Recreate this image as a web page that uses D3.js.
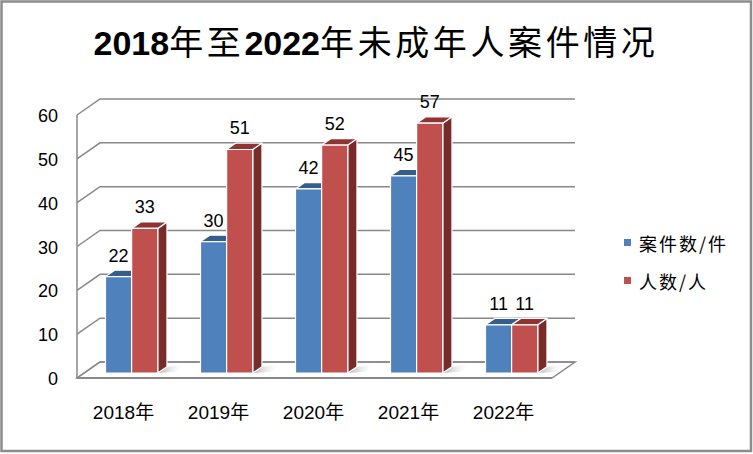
<!DOCTYPE html>
<html>
<head>
<meta charset="utf-8">
<script src="https://cdn.jsdelivr.net/npm/d3@7"></script>
<style>
	body { margin: 0; background: #ffffff; }
	svg { display: block; }
</style>
</head>
<body>
<svg width="753" height="454"></svg>
<script>
	// Data
	const title = "2018年至2022年未成年人案件情况";
	const categories = ["2018年", "2019年", "2020年", "2021年", "2022年"];
	const series_names = ["案件数/件", "人数/人"];
	const cases = [22, 30, 42, 45, 11];
	const people = [33, 51, 52, 57, 11];
	const y_ticks = [0, 10, 20, 30, 40, 50, 60];

	// Variable Declarations
	const svg = d3.select("svg");
	const front_left = 77, front_right = 552;
	const depth_x = 23, depth_y = 16;
	const bar_z0 = 0.31, bar_z1 = 0.71;

	const colors = [
		{front: "#4f81bd", top: "#385d8a", side: "#2f4f78"},
		{front: "#c0504d", top: "#8f3432", side: "#772c2a"}
	];
	const grid_color = "#888888";

	const x = d3.scaleBand()
		.domain(categories)
		.range([front_left, front_right])
		.paddingInner(0.45)
		.paddingOuter(0.225);

	const y = d3.scaleLinear()
		.domain([0, 60])
		.range([378, 115]);

	const series = [cases, people];

	// Function Definitions

	/**
	 * Project a point of the front plane back to depth z (0 front, 1 back wall)
	 * @param {number} px - x on the front plane
	 * @param {number} v - data value
	 * @param {number} z - depth fraction
	 */
	function proj(px, v, z){
		return [px + z * depth_x, y(v) - z * depth_y];
	}

	function poly(points){
		return points.map(p => p.join(",")).join(" ");
	}

	// outer border
	svg.append("rect")
	   .attr("x", 1.5).attr("y", 1.5)
	   .attr("width", 749.5).attr("height", 449.5)
	   .attr("fill", "#ffffff")
	   .attr("stroke", "#8c8c8c")
	   .attr("stroke-width", 2.5);

	// title: bold latin digits, regular CJK glyphs
	const title_text = svg.append("text")
	   .attr("x", 376)
	   .attr("y", 55)
	   .attr("text-anchor", "middle")
	   .attr("font-size", 34)
	   .attr("fill", "#000000");

	title.split(/(\d+)/).filter(s => s.length).forEach(function(run){
		let is_digit = /^\d+$/.test(run);
		title_text.append("tspan")
		   .text(run)
		   .attr("font-family", is_digit ? "'Liberation Sans', Arial, sans-serif" : "'Noto Sans CJK SC', sans-serif")
		   .attr("font-weight", is_digit ? "bold" : "normal")
		   .attr("letter-spacing", is_digit ? 0 : 3.6);
	});

	// floor
	const defs = svg.append("defs");
	const shadow = defs.append("linearGradient")
	   .attr("id", "shadow")
	   .attr("x1", 0).attr("x2", 1).attr("y1", 0).attr("y2", 0);
	shadow.append("stop").attr("offset", "0%").attr("stop-color", "#9a9a9a").attr("stop-opacity", 0.8);
	shadow.append("stop").attr("offset", "100%").attr("stop-color", "#ffffff").attr("stop-opacity", 0);

	svg.append("polygon")
	   .attr("points", poly([proj(front_left, 0, 0), proj(front_right, 0, 0), proj(front_right, 0, 1), proj(front_left, 0, 1)]))
	   .attr("fill", "#ffffff")
	   .attr("stroke", grid_color)
	   .attr("stroke-width", 1.5);

	// back wall grid lines and left wall lines
	const grid = svg.append("g")
	   .attr("stroke", grid_color)
	   .attr("stroke-width", 1.5)
	   .attr("fill", "none");

	grid.selectAll("polyline")
	   .data(y_ticks)
	   .enter()
	   .append("polyline")
	   .attr("points", function(d){
		   return poly([proj(front_left, d, 0), proj(front_left, d, 1), proj(front_right, d, 1)]);
	   });

	grid.append("line")
	   .attr("x1", front_left).attr("y1", y(0))
	   .attr("x2", front_left).attr("y2", y(60));

	// front floor edge drawn a bit heavier
	grid.append("line")
	   .attr("x1", front_left).attr("y1", y(0))
	   .attr("x2", front_right).attr("y2", y(0))
	   .attr("stroke-width", 2);

	// y tick labels
	svg.append("g")
	   .selectAll("text")
	   .data(y_ticks)
	   .enter()
	   .append("text")
	   .attr("x", 58)
	   .attr("y", d => y(d) + 7)
	   .attr("text-anchor", "end")
	   .attr("font-family", "'Liberation Sans', Arial, sans-serif")
	   .attr("font-size", 18)
	   .attr("fill", "#000000")
	   .text(d => d);

	// x labels
	svg.append("g")
	   .selectAll("text")
	   .data(categories)
	   .enter()
	   .append("text")
	   .attr("x", d => x(d) + x.bandwidth() / 2 - 1)
	   .attr("y", 419)
	   .attr("text-anchor", "middle")
	   .attr("font-family", "'Liberation Sans', 'Noto Sans CJK SC', sans-serif")
	   .attr("font-size", 19)
	   .attr("fill", "#000000")
	   .text(d => d);

	// bars
	const bar_width = x.bandwidth() / 2;
	const bars = svg.append("g");
	const labels = svg.append("g");

	categories.forEach(function(cat, i){
		let left = x(cat);
		let right = left + x.bandwidth();

		// floor shadow to the right of the group
		bars.append("polygon")
		   .attr("points", poly([proj(right, 0, bar_z0), proj(right + 16, 0, bar_z0 + 0.08), proj(right + 16, 0, bar_z1 + 0.1), proj(right, 0, bar_z1)]))
		   .attr("fill", "url(#shadow)");

		series.forEach(function(values, s){
			let v = values[i];
			let xl = left + s * bar_width;
			let xr = xl + bar_width;
			let c = colors[s];
			let g = bars.append("g")
			   .attr("stroke", "#ffffff")
			   .attr("stroke-width", 1.2)
			   .attr("stroke-linejoin", "round");

			g.append("polygon")
			   .attr("points", poly([proj(xr, 0, bar_z0), proj(xr, v, bar_z0), proj(xr, v, bar_z1), proj(xr, 0, bar_z1)]))
			   .attr("fill", c.side);

			g.append("polygon")
			   .attr("points", poly([proj(xl, v, bar_z0), proj(xr, v, bar_z0), proj(xr, v, bar_z1), proj(xl, v, bar_z1)]))
			   .attr("fill", c.top);

			g.append("polygon")
			   .attr("points", poly([proj(xl, 0, bar_z0), proj(xr, 0, bar_z0), proj(xr, v, bar_z0), proj(xl, v, bar_z0)]))
			   .attr("fill", c.front);

			let top = proj(xl + bar_width / 2, v, bar_z0);
			labels.append("text")
			   .attr("x", top[0])
			   .attr("y", top[1] - 15)
			   .attr("text-anchor", "middle")
			   .attr("font-family", "'Liberation Sans', Arial, sans-serif")
			   .attr("font-size", 18)
			   .attr("fill", "#000000")
			   .text(v);
		});
	});

	// legend
	const legend = svg.append("g")
	   .selectAll("g")
	   .data(series_names)
	   .enter()
	   .append("g")
	   .attr("transform", (d, i) => `translate(624, ${242.5 + i * 38})`);

	legend.append("rect")
	   .attr("x", 0).attr("y", -3.5)
	   .attr("width", 7).attr("height", 7)
	   .attr("fill", (d, i) => colors[i].front);

	legend.append("text")
	   .attr("x", 15)
	   .attr("y", 0)
	   .attr("dominant-baseline", "central")
	   .attr("font-family", "'Noto Sans CJK SC', sans-serif")
	   .attr("font-size", 18)
	   .attr("letter-spacing", 2)
	   .attr("fill", "#000000")
	   .text(d => d);
</script>
</body>
</html>
